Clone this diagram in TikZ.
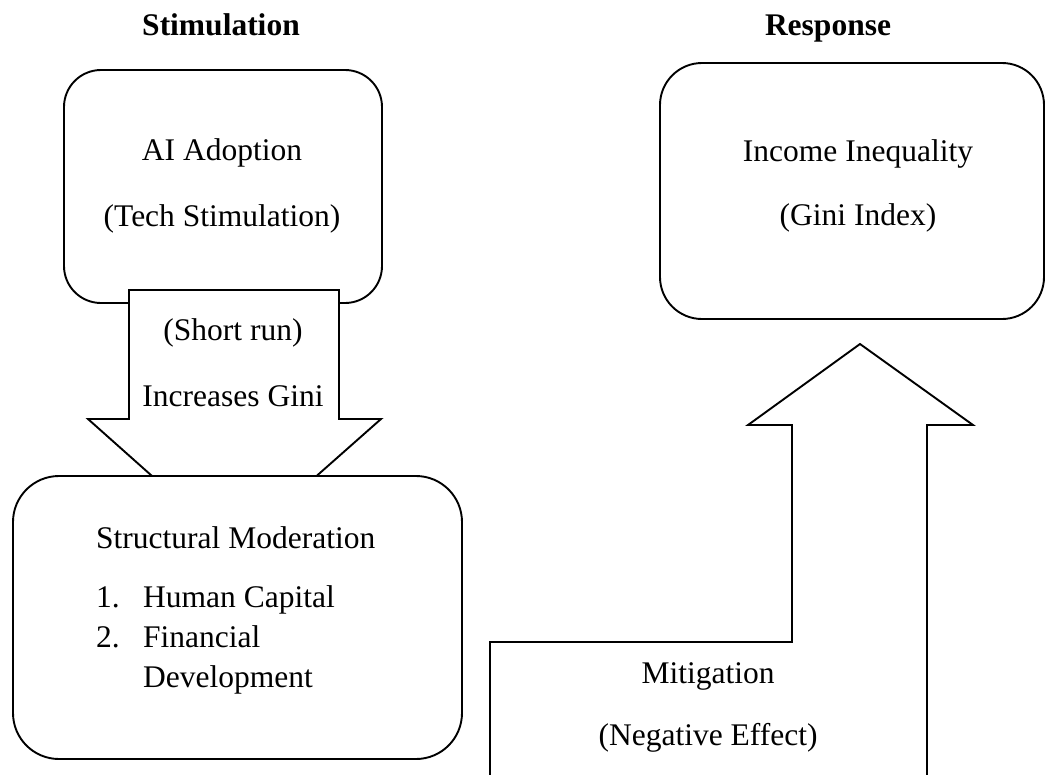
\documentclass[tikz,border=0pt]{standalone}
\usepackage{fontspec}
\setmainfont{Liberation Serif}
\begin{document}
\begin{tikzpicture}[x=1pt,y=-1pt,
  lw/.style={line width=1.9pt},
  rbox/.style={lw,draw=black,fill=white,rectangle,inner sep=0pt},
  blockarrow/.style={lw,draw=black,fill=white,line join=miter},
  txt/.style={inner sep=0pt,anchor=base,font=\fontsize{31.5}{38}\selectfont},
  txtl/.style={txt,anchor=base west},
  title/.style={txt,font=\fontsize{31.5}{38}\selectfont\bfseries}]
\clip (0,0) rectangle (1046,774);
\fill[white] (0,0) rectangle (1046,774);

% titles
\node[title] (tstim) at (221,35) {Stimulation};
\node[title] (tresp) at (828,35) {Response};

% box 1
\node[rbox,rounded corners=37pt,minimum width=318pt,minimum height=233pt] (ai) at (223,186.5) {};
\node[txt] (ai1) at (222,160) {AI Adoption};
\node[txt] (ai2) at (222,226) {(Tech Stimulation)};

% down block arrow
\draw[blockarrow] (129,290) -- (129,419) -- (88,419) -- (234,549) -- (381,419) -- (339,419) -- (339,290) -- cycle;
\node[txt] (sr) at (233,340) {(Short run)};
\node[txt] (ig) at (233,406) {Increases Gini};

% box 2
\node[rbox,rounded corners=46pt,minimum width=449pt,minimum height=283pt] (sm) at (237.5,617.5) {};
\node[txtl] (sm0) at (96,548) {Structural Moderation};
\node[txtl] (n1) at (96,607) {1.};
\node[txtl] (hc) at (143,607) {Human Capital};
\node[txtl] (n2) at (96,647) {2.};
\node[txtl] (fi) at (143,647) {Financial};
\node[txtl] (dv) at (143,687) {Development};

% box 3
\node[rbox,rounded corners=42pt,minimum width=384pt,minimum height=256pt] (ii) at (852,191) {};
\node[txt] (ii1) at (858,161) {Income Inequality};
\node[txt] (ii2) at (858,225) {(Gini Index)};

% up bent block arrow
\draw[blockarrow] (490,800) -- (490,642) -- (792,642) -- (792,425) -- (748,425) -- (860,344) -- (973,425) -- (927,425) -- (927,800);
\node[txt] (mi) at (708,683) {Mitigation};
\node[txt] (ne) at (708,745) {(Negative Effect)};
\end{tikzpicture}
\end{document}
